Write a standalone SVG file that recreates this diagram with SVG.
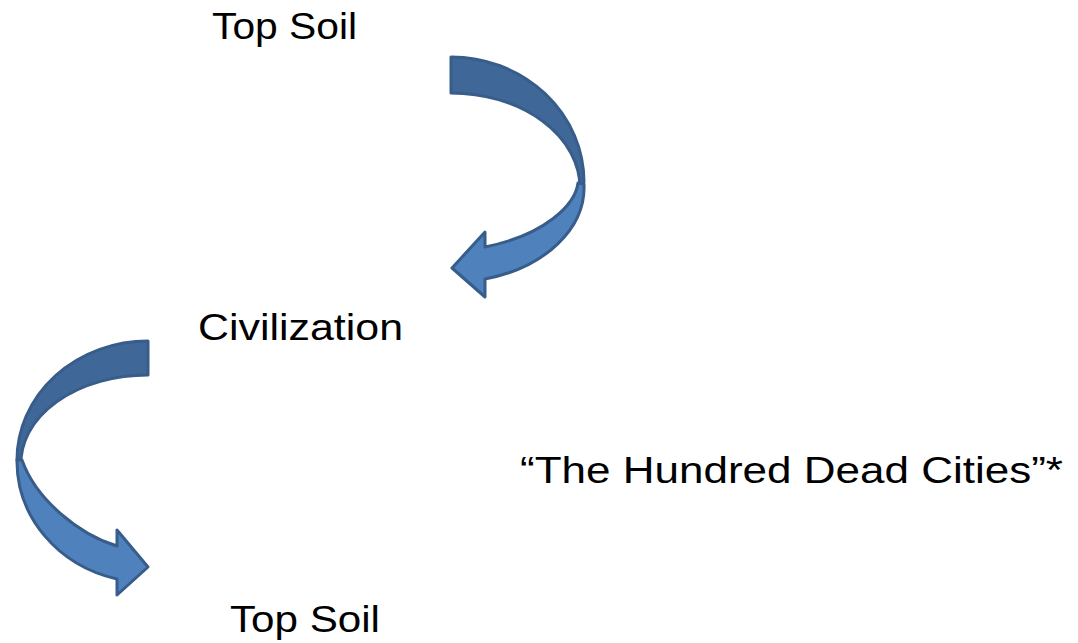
<svg xmlns="http://www.w3.org/2000/svg" width="1078" height="643" viewBox="0 0 1078 643">
<style>
.t{font-family:"Liberation Sans",Arial,sans-serif;font-size:37px;fill:#000}
.back{fill:#3F6797;stroke:#385D8A;stroke-width:3;stroke-linejoin:round}
.front{fill:#4F81BD;stroke:#385D8A;stroke-width:3;stroke-linejoin:round}
</style>
<rect width="1078" height="643" fill="#fff"/>
<g id="connectors">
<g id="arrow1">
<path class="back" d="M451,57 A133,125 0 0 1 584,182 L580,188 A129,95 0 0 0 451,93 Z"/>
<path class="front" d="M584,184 A133,95 0 0 1 485,279 L485,297 L452,268 L485,232 L485,247 C545,235 575,205 578,183 Z"/>
</g>
<g id="arrow2">
<path class="back" d="M148,341 A131,119 0 0 0 17,460 L21,466 A127,88 0 0 1 148,375 Z"/>
<path class="front" d="M17,460 A131,121 0 0 0 117,579 L117,595 L148,567 L117,530 L117,546 C80,535 36,500 22,460 Z"/>
</g>
</g>
<g id="node-topsoil1"><text class="t" x="212" y="39" textLength="145" lengthAdjust="spacingAndGlyphs">Top Soil</text></g>
<g id="node-civilization"><text class="t" x="198" y="340" textLength="205" lengthAdjust="spacingAndGlyphs">Civilization</text></g>
<g id="node-deadcities"><text class="t" x="520" y="483" textLength="543" lengthAdjust="spacingAndGlyphs">“The Hundred Dead Cities”*</text></g>
<g id="node-topsoil2"><text class="t" x="230" y="632" textLength="150" lengthAdjust="spacingAndGlyphs">Top Soil</text></g>
</svg>
